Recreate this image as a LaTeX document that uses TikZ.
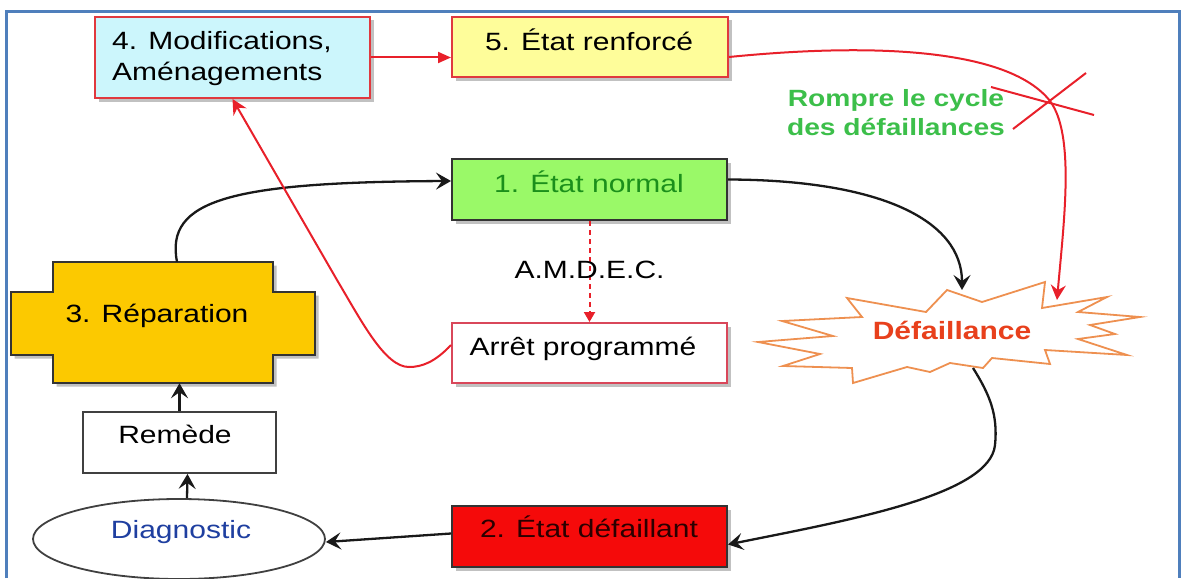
\documentclass[tikz,border=0pt]{standalone}
\usepackage{fontspec}
\setmainfont{Liberation Sans}[FakeStretch=1.2]
\usetikzlibrary{arrows.meta,shapes.geometric,shadows,calc}

\definecolor{framecol}{HTML}{4F7FBC}
\definecolor{redline}{HTML}{E8202A}
\definecolor{redbox}{HTML}{E0393E}
\definecolor{pinkline}{HTML}{D9475A}
\definecolor{darkline}{HTML}{333333}
\definecolor{cyanfill}{HTML}{CCF6FC}
\definecolor{yellowfill}{HTML}{FEFD9A}
\definecolor{greenfill}{HTML}{9AF968}
\definecolor{greentext}{HTML}{1B8F1B}
\definecolor{redfill}{HTML}{F50A0A}
\definecolor{darkredtext}{HTML}{2B0000}
\definecolor{gold}{HTML}{FCC900}
\definecolor{bluetext}{HTML}{1F3FA0}
\definecolor{starline}{HTML}{EE9050}
\definecolor{failtext}{HTML}{E8401C}
\definecolor{greenmsg}{HTML}{3CBF4A}

\begin{document}
\begin{tikzpicture}[x=1pt,y=-1pt,
  box/.style={draw, line width=2pt, inner sep=0pt, minimum width=275pt, minimum height=61pt},
  shade/.style={drop shadow={shadow xshift=3.5pt,shadow yshift=-3.5pt,opacity=0.35,fill=black!70}},
  lbl/.style={font=\fontsize{25}{30}\selectfont, inner sep=0pt, anchor=base},
  msg/.style={font=\bfseries\fontsize{23.5}{29}\selectfont, text=greenmsg, inner sep=0pt, anchor=base},
  blackarrow/.style={line width=2.3pt, draw=black!90, -{Stealth[length=15pt,width=17pt,inset=6pt]}},
  redarrow/.style={line width=2pt, draw=redline, -{Stealth[length=15pt,width=15pt,inset=5pt]}},
]
\useasboundingbox (0,0) rectangle (1182,578);

% outer frame
\draw[framecol, line width=3pt] (6,578) -- (6,12) -- (1179,12) -- (1179,578);

% top row
\node[box, shade, draw=redbox, fill=cyanfill, minimum height=81pt] (box4) at (232.5,57.5) {};
\node[lbl, anchor=base west] (box4a) at (112,49) {4. Modifications,};
\node[lbl, anchor=base west] (box4b) at (112,80) {Aménagements};

\node[box, shade, draw=redbox, fill=yellowfill, minimum width=276pt, minimum height=60pt] (box5) at (590,47) {};
\node[lbl] (box5t) at (589,51) {5. État renforcé};

% centre column
\node[box, shade, draw=darkline, fill=greenfill] (box1) at (589.5,189.5) {};
\node[lbl, text=greentext] (box1t) at (589,192) {1. État normal};

\node[box, shade, draw=pinkline, fill=white, minimum height=60pt] (arret) at (589.5,353) {};
\node[lbl] (arrett) at (583,355) {Arrêt programmé};

\node[box, shade, draw=darkline, fill=redfill] (box2) at (589.5,536.5) {};
\node[lbl, text=darkredtext] (box2t) at (589,537) {2. État défaillant};

% repair cross shape
\filldraw[shade, fill=gold, draw=darkline, line width=2pt]
  (53,262) -- (273,262) -- (273,292) -- (315,292) -- (315,355) -- (273,355)
  -- (273,383) -- (53,383) -- (53,355) -- (11,355) -- (11,292) -- (53,292) -- cycle;
\node[minimum width=304pt, minimum height=121pt, inner sep=0pt] (repar) at (163,322.5) {};
\node[lbl] (repart) at (157,322) {3. Réparation};

\node[box, draw=black!75, fill=white, minimum width=193pt, line width=1.8pt] (remede) at (179.5,442.5) {};
\node[lbl] (remedet) at (175,443) {Remède};

\node[ellipse, draw=black!75, fill=white, minimum width=292pt, minimum height=80pt, inner sep=0pt, line width=1.8pt] (diag) at (179,539) {};
\node[lbl, text=bluetext] (diagt) at (181,538) {Diagnostic};

% failure burst
\filldraw[fill=white, draw=starline, line width=1.8pt]
  (758,342) -- (833,336) -- (782,321) -- (862,317) -- (847,298) -- (926,312)
  -- (947,290) -- (982,302) -- (1045,282) -- (1042,308) -- (1107,297) -- (1078,312)
  -- (1140,317) -- (1090,325) -- (1115,334) -- (1078,339) -- (1127,355) -- (1045,350)
  -- (1050,364) -- (992,358) -- (983,368) -- (950,363) -- (930,372) -- (907,367)
  -- (853,383) -- (852,368) -- (783,366) -- (820,354) -- cycle;
\node[lbl, font=\bfseries\fontsize{25}{30}\selectfont, text=failtext] (fail) at (952,339) {Défaillance};
\coordinate (starN) at (962,290);
\coordinate (starNE) at (1057,300);
\coordinate (starS) at (973,368);

% breaking the cycle
\node[msg] (rompre1) at (896,106) {Rompre le cycle};
\node[msg] (rompre2) at (896,135) {des défaillances};
\coordinate (xc) at (1050,101);
\draw[redline, line width=2pt] (991,87) -- (1094,115);
\draw[redline, line width=2pt] (1086,73) -- (1013,129);

% connectors
\draw[redarrow, -{Triangle[length=13pt,width=11pt]}] (box4.east) -- (box4.east -| box5.west);
\draw[redarrow] ([yshift=-10pt]box5.east) .. controls (880,42) and (1010,50) .. (xc)
  .. controls (1075,135) and (1064,220) .. (starNE);
\draw[blackarrow] ([yshift=10pt]box1.east) .. controls (880,180) and (962,220) .. (starN);
\coordinate (bend1) at (995,445);
\draw[blackarrow] (starS) .. controls (990,395) and (998,415) .. (bend1)
  .. controls (990,495) and (850,520) .. ([yshift=-8pt]box2.east);
\draw[blackarrow] ([yshift=3pt]box2.west) -- ([yshift=-3pt]diag.east);
\draw[blackarrow] ([xshift=8pt]diag.north) -- ([xshift=8pt]remede.south);
\draw[blackarrow] (remede.north) -- (remede.north |- repar.south);
\draw[blackarrow] ([xshift=14pt]repar.north) .. controls (165,200) and (230,182) .. ([yshift=8.5pt]box1.west);
\draw[draw=redline, line width=2pt, dash pattern=on 5pt off 4pt, -{Triangle[length=10pt,width=11pt]}]
  (box1.south) -- node[lbl, text=black, pos=0.5, yshift=-6.5pt] (amdec) {A.M.D.E.C.} (arret.north);
\coordinate (valley) at (409,367);
\coordinate (kink) at (337,280);
\draw[redarrow] ([yshift=8pt]arret.west) .. controls (435,362) and (422,367) .. (valley)
  .. controls (385,367) and (362,322) .. (kink) -- (box4.south);
\end{tikzpicture}
\end{document}
